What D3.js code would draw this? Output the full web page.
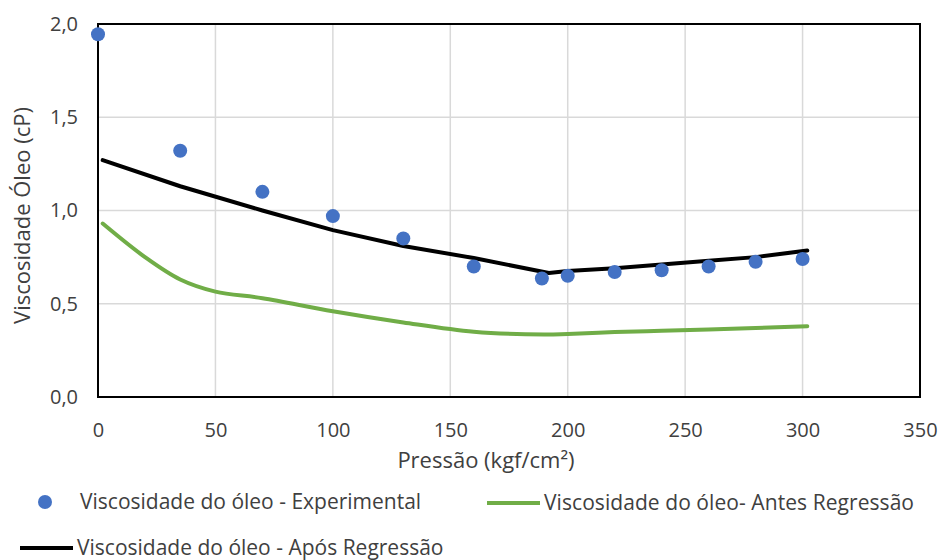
<!DOCTYPE html>
<html>
<head>
<meta charset="utf-8">
<script src="https://cdn.jsdelivr.net/npm/d3@7"></script>
<style>
  body { margin: 0; background: #fff; }
  text { font-family: "Open Sans", "Noto Sans", sans-serif; fill: #404040; }
</style>
</head>
<body>
<div class="chart"></div>
<script>
// valores
var expPressao = [0, 35, 70, 100, 130, 160, 189, 200, 220, 240, 260, 280, 300];
var expVisc    = [1.945, 1.32, 1.10, 0.97, 0.85, 0.70, 0.635, 0.65, 0.67, 0.68, 0.70, 0.725, 0.74];

var aposPressao = [2, 35, 70, 100, 130, 160, 192, 200, 220, 240, 260, 280, 302];
var aposVisc    = [1.27, 1.13, 1.00, 0.895, 0.81, 0.745, 0.665, 0.675, 0.69, 0.71, 0.73, 0.75, 0.785];

var antesPressao = [2, 20, 35, 50, 70, 100, 130, 160, 190, 200, 220, 240, 260, 280, 302];
var antesVisc    = [0.93, 0.75, 0.63, 0.565, 0.53, 0.46, 0.40, 0.35, 0.335, 0.338, 0.348, 0.355, 0.362, 0.37, 0.38];

var xTicks = [0, 50, 100, 150, 200, 250, 300, 350];
var yTicks = [0, 0.5, 1.0, 1.5, 2.0];

var legendLabels = [
  "Viscosidade do óleo - Experimental",
  "Viscosidade do óleo- Antes Regressão",
  "Viscosidade do óleo - Após Regressão"
];

var width = 940,
    height = 560;

var margin = {left: 98, right: 20, top: 24, bottom: 163};

var svg = d3.select(".chart").append("svg")
    .attr("width", width)
    .attr("height", height);

var x = d3.scaleLinear()
    .domain([0, 350])
    .range([margin.left, width - margin.right]);

var y = d3.scaleLinear()
    .domain([0, 2])
    .range([height - margin.bottom, margin.top]);

var fmt = function(d){ return d3.format(".1f")(d).replace(".", ","); };

// grade
svg.append("g")
    .selectAll("line")
    .data(xTicks)
    .enter()
    .append("line")
    .attr("x1", x).attr("x2", x)
    .attr("y1", y(0)).attr("y2", y(2))
    .attr("stroke", "#d9d9d9")
    .attr("stroke-width", 1.5);

svg.append("g")
    .selectAll("line")
    .data(yTicks)
    .enter()
    .append("line")
    .attr("x1", x(0)).attr("x2", x(350))
    .attr("y1", y).attr("y2", y)
    .attr("stroke", "#d9d9d9")
    .attr("stroke-width", 1.5);

// eixos
var xAxis = svg.append("g")
    .attr("transform", "translate(0," + y(0) + ")")
    .call(d3.axisBottom(x).tickValues(xTicks).tickSize(0).tickPadding(26));

var yAxis = svg.append("g")
    .attr("transform", "translate(" + x(0) + ",0)")
    .call(d3.axisLeft(y).tickValues(yTicks).tickFormat(fmt).tickSize(0).tickPadding(20));

[xAxis, yAxis].forEach(function(g){
  g.select(".domain").remove();
  g.selectAll("text")
      .style("font-size", "20px")
      .style("font-family", "\"Open Sans\", sans-serif")
      .attr("fill", "#404040");
});

// borda
svg.append("rect")
    .attr("x", x(0))
    .attr("y", y(2))
    .attr("width", x(350) - x(0))
    .attr("height", y(0) - y(2))
    .attr("fill", "none")
    .attr("stroke", "#000")
    .attr("stroke-width", 2);

// linhas
var antesLine = d3.line()
    .x(function(d, i){ return x(antesPressao[i]); })
    .y(function(d){ return y(d); })
    .curve(d3.curveCatmullRom);

var aposLine = d3.line()
    .x(function(d, i){ return x(aposPressao[i]); })
    .y(function(d){ return y(d); });

svg.append("path")
    .datum(antesVisc)
    .attr("d", antesLine)
    .attr("fill", "none")
    .attr("stroke", "#70ad47")
    .attr("stroke-width", 4)
    .attr("stroke-linecap", "round");

svg.append("path")
    .datum(aposVisc)
    .attr("d", aposLine)
    .attr("fill", "none")
    .attr("stroke", "#000")
    .attr("stroke-width", 4)
    .attr("stroke-linecap", "round")
    .attr("stroke-linejoin", "round");

svg.append("g")
    .selectAll("circle")
    .data(expVisc)
    .enter()
    .append("circle")
    .attr("cx", function(d, i){ return x(expPressao[i]); })
    .attr("cy", function(d){ return y(d); })
    .attr("r", 7)
    .attr("fill", "#4472c4");

// títulos
svg.append("text")
    .attr("x", 486)
    .attr("y", 468)
    .attr("text-anchor", "middle")
    .style("font-size", "22px")
    .text("Pressão (kgf/cm²)");

svg.append("text")
    .attr("transform", "translate(30," + ((y(0) + y(2)) / 2 + 5) + ") rotate(-90)")
    .attr("text-anchor", "middle")
    .style("font-size", "22px")
    .text("Viscosidade Óleo (cP)");

// legenda
var leg = svg.append("g").style("font-size", "21px");

leg.append("circle")
    .attr("cx", 45).attr("cy", 502).attr("r", 7)
    .attr("fill", "#4472c4");
leg.append("text")
    .attr("x", 80).attr("y", 509)
    .text(legendLabels[0]);

leg.append("line")
    .attr("x1", 487).attr("x2", 540)
    .attr("y1", 503).attr("y2", 503)
    .attr("stroke", "#70ad47").attr("stroke-width", 4);
leg.append("text")
    .attr("x", 544).attr("y", 510)
    .attr("textLength", 370)
    .text(legendLabels[1]);

leg.append("line")
    .attr("x1", 20).attr("x2", 73)
    .attr("y1", 548).attr("y2", 548)
    .attr("stroke", "#000").attr("stroke-width", 4);
leg.append("text")
    .attr("x", 77).attr("y", 555)
    .text(legendLabels[2]);
</script>
</body>
</html>
